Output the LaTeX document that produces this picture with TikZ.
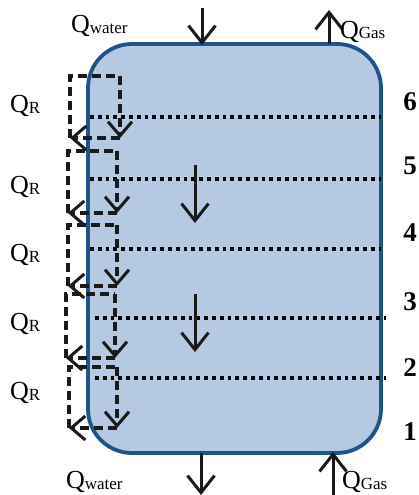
\documentclass[tikz,border=0pt]{standalone}
\usepackage{fontspec}
\setmainfont{Liberation Serif}
\usepackage{tikz}
\usetikzlibrary{arrows.meta}
\definecolor{VesselBlue}{HTML}{1F5389}
\definecolor{VesselFill}{HTML}{B5C9E3}
\definecolor{FlowBlack}{HTML}{1A1A1A}
\newcommand{\Qflow}[1]{{\fontsize{26}{26}\selectfont Q}\raisebox{-1pt}{\fontsize{17}{17}\selectfont #1}}

\begin{document}
\begin{tikzpicture}[x=1pt, y=-1pt,
    every node/.style={inner sep=0pt, outer sep=0pt},
    flowarrow/.style={draw=FlowBlack, line width=3pt, -{Straight Barb[length=17pt, width=27pt, line width=3pt]}},
    stagearrow/.style={flowarrow},
    recycle/.style={draw=FlowBlack, line width=3.4pt, dash pattern=on 9pt off 5pt},
    recyclearrow/.style={recycle, -{Straight Barb[length=14pt, width=24pt, line width=3pt]}},
    levelline/.style={draw=black, line width=3.2pt, dash pattern=on 3.8pt off 4pt},
    levelno/.style={font=\fontsize{27}{27}\selectfont\bfseries, anchor=center},
    flowlabel/.style={anchor=base west}]
  \useasboundingbox (0,0) rectangle (419,495);
  % vessel
  \draw[fill=VesselFill, draw=VesselBlue, line width=3.8pt, rounded corners=44pt] (88,44) rectangle (381,453);
  % stage levels
  \foreach \y/\xa/\xb in {117/90/381, 179/90/381, 249/90/381, 318/95/386, 378/95/386}
    \draw[levelline] (\xa,\y) -- (\xb,\y);
  \foreach \y/\n in {102/6, 166/5, 233/4, 302/3, 368/2, 432/1}
    \node[levelno] (lvl\n) at (410,\y) {\n};
  % inner settling arrows
  \coordinate (drop1a) at (195,165);
  \coordinate (drop1b) at (195,223);
  \coordinate (drop2a) at (195,294);
  \coordinate (drop2b) at (195,352);
  \draw[stagearrow] (drop1a) -- (drop1b);
  \draw[stagearrow] (drop2a) -- (drop2b);
  % recycle loops
  \foreach \t/\b/\l/\r/\k in {76/138/70/120/1, 151/213/68/117/2, 225/286/68/117/3, 294/358/66/115/4, 367/428/69/117/5} {
    \coordinate (rtl\k) at (\l,\t);
    \coordinate (rtr\k) at (\r,\t);
    \coordinate (rbr\k) at (\r,\b);
    \coordinate (rbl\k) at (\l,\b);
    \draw[recycle] (rbl\k) -- (rtl\k) -- (rtr\k);
    \draw[recyclearrow] (rtr\k) -- (rbr\k);
    \draw[recyclearrow] (rbr\k) -- (rbl\k);
  }
  \foreach \y/\k in {112/1, 193/2, 261/3, 330/4, 399/5}
    \node[flowlabel] (qr\k) at (10,\y) {\Qflow{R}};
  % inlets and outlets
  \coordinate (wtop) at (202,8);
  \coordinate (wtopv) at (202,45);
  \coordinate (gtop) at (329,44);
  \coordinate (gtopv) at (329,10);
  \coordinate (wbot) at (201,453);
  \coordinate (wbotv) at (201,495);
  \coordinate (gbot) at (333,495);
  \coordinate (gbotv) at (333,452);
  \draw[flowarrow] (wtop) -- (wtopv);
  \draw[flowarrow] (gtop) -- (gtopv);
  \draw[flowarrow] (wbot) -- (wbotv);
  \draw[flowarrow] (gbot) -- (gbotv);
  \node[flowlabel] (qwin) at (71,33) {\Qflow{water}};
  \node[flowlabel] (qgout) at (340,38) {\Qflow{Gas}};
  \node[flowlabel] (qwout) at (66,488) {\Qflow{water}};
  \node[flowlabel] (qgin) at (342,488) {\Qflow{Gas}};
\end{tikzpicture}
\end{document}
